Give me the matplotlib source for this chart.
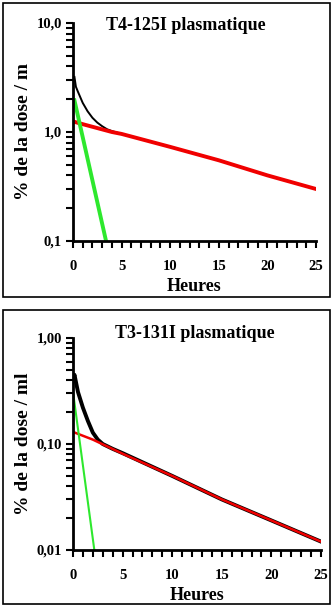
import matplotlib
matplotlib.use('Agg')
import matplotlib.pyplot as plt
from matplotlib.patches import Rectangle
from matplotlib.ticker import LogLocator, FixedLocator, FixedFormatter, NullFormatter

# T4-125I plasma curve (hours, % of dose / ml)
t4_hours_total = [0.15, 0.3, 0.5, 1, 1.5, 2, 2.5, 3, 3.5, 4, 5, 10, 15, 20, 25]
t4_total = [3.2, 2.6, 2.35, 1.85, 1.55, 1.35, 1.22, 1.13, 1.06, 1.02, 0.96, 0.73, 0.55, 0.40, 0.30]
t4_hours_slow = [0, 1, 4, 5, 10, 15, 20, 25]
t4_slow = [1.25, 1.18, 1.0, 0.96, 0.73, 0.55, 0.40, 0.30]
t4_hours_fast = [0.15, 3.4]
t4_fast = [1.95, 0.1]

# T3-131I plasma curve
t3_hours_total = [0, 0.15, 0.5, 1, 1.5, 2, 2.5, 3, 4, 5, 10, 15, 20, 25]
t3_total = [0.40, 0.45, 0.31, 0.22, 0.165, 0.128, 0.11, 0.10, 0.09, 0.082, 0.050, 0.030, 0.019, 0.012]
t3_hours_slow = [0, 2, 5, 10, 15, 20, 25]
t3_slow = [0.13, 0.11, 0.081, 0.050, 0.030, 0.019, 0.012]
t3_hours_fast = [0, 2.15]
t3_fast = [0.31, 0.01]

x_ticks = [0, 5, 10, 15, 20, 25]

RED = '#f00000'
GREEN = '#2ee82e'
FONT = 'Liberation Serif'

fig = plt.figure(figsize=(3.36, 6.14), dpi=100)
W, H = 336, 614


def px_box(x0, y0, x1, y1):
    return [x0 / W, 1 - y1 / H, (x1 - x0) / W, (y1 - y0) / H]


def style_axes(ax, ylim, ytick_labels):
    ax.set_yscale('log')
    ax.set_ylim(*ylim)
    ax.set_xlim(0, 25)
    for s in ('top', 'right'):
        ax.spines[s].set_visible(False)
    for s in ('left', 'bottom'):
        ax.spines[s].set_linewidth(2)
    ax.xaxis.set_major_locator(FixedLocator(x_ticks))
    ax.xaxis.set_minor_locator(FixedLocator(range(26)))
    decades = [ylim[0], ylim[0] * 10, ylim[1]]
    ax.yaxis.set_major_locator(FixedLocator(decades))
    ax.yaxis.set_major_formatter(FixedFormatter(ytick_labels))
    ax.yaxis.set_minor_locator(LogLocator(base=10, subs=range(2, 10)))
    ax.yaxis.set_minor_formatter(NullFormatter())
    ax.tick_params(which='both', direction='out', width=1.5, length=5)
    ax.tick_params(axis='x', which='major', pad=9)
    ax.tick_params(axis='y', which='major', pad=3)
    for lab in ax.get_xticklabels() + ax.get_yticklabels():
        lab.set_fontfamily(FONT)
        lab.set_fontweight('bold')
        lab.set_fontsize(10.5)
    ax.set_xlabel('Heures', fontfamily=FONT, fontweight='bold', fontsize=13, labelpad=3)


# top panel: T4
ax1 = fig.add_axes(px_box(73, 23, 316, 241))
ax1.plot(t4_hours_total, t4_total, color='black', lw=1.4)
ax1.plot(t4_hours_slow, t4_slow, color=RED, lw=2.8)
ax1.plot(t4_hours_fast, t4_fast, color=GREEN, lw=2.8)
style_axes(ax1, (0.1, 10), ['0,1', '1,0', '10,0'])
ax1.set_ylabel('% de la dose / m', fontfamily=FONT, fontweight='bold', fontsize=14, labelpad=3)
fig.text(186 / W, 1 - 25 / H, 'T4-125I plasmatique', ha='center', va='center',
         fontfamily=FONT, fontweight='bold', fontsize=13)

# bottom panel: T3
ax2 = fig.add_axes(px_box(73, 338, 321, 550))
ax2.plot(t3_hours_total, t3_total, color='black', lw=2.8)
ax2.plot(t3_hours_slow, t3_slow, color=RED, lw=1.8)
ax2.plot(t3_hours_fast, t3_fast, color=GREEN, lw=1.5)
style_axes(ax2, (0.01, 1), ['0,01', '0,10', '1,00'])
ax2.set_ylabel('% de la dose / ml', fontfamily=FONT, fontweight='bold', fontsize=14, labelpad=3)
fig.text(195 / W, 1 - 333 / H, 'T3-131I plasmatique', ha='center', va='center',
         fontfamily=FONT, fontweight='bold', fontsize=13)

# frames around each panel
for y0, y1 in ((3, 297), (310, 604)):
    fig.patches.append(Rectangle((3 / W, 1 - y1 / H), 327 / W, (y1 - y0) / H,
                                 transform=fig.transFigure, fill=False,
                                 edgecolor='black', lw=1.2))

fig.savefig('out.png', dpi=100)
